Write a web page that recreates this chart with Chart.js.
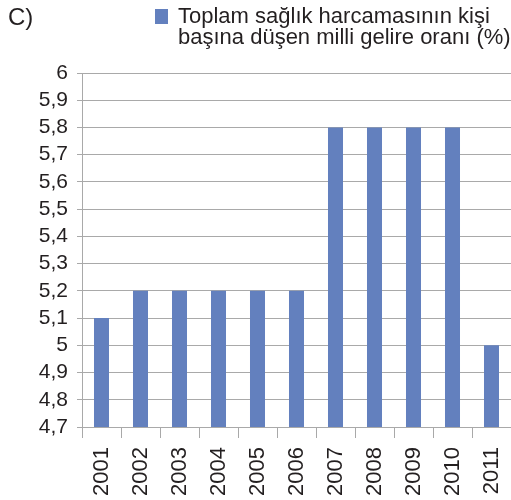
<!DOCTYPE html>
<html>
<head>
<meta charset="utf-8">
<script src="https://cdn.jsdelivr.net/npm/chart.js@4"></script>
<style>
  html, body { margin: 0; padding: 0; background: #fff; }
  #wrap { position: relative; width: 511px; height: 500px; overflow: hidden; }
  #c { position: absolute; left: 0; top: 0; }
  .txt { position: absolute; font-family: "Liberation Sans", Arial, sans-serif; color: #231f20; white-space: nowrap; }
  #label { left: 8px; top: 3px; font-size: 24px; }
  #legbox { position: absolute; left: 155px; top: 9px; width: 13px; height: 15px; background: #6380be; }
  #legtext { left: 178px; top: 5px; font-size: 22px; line-height: 21px; }
</style>
</head>
<body>
<div id="wrap">
  <canvas id="c" width="511" height="500"></canvas>
  <div class="txt" id="label">C)</div>
  <div id="legbox"></div>
  <div class="txt" id="legtext">Toplam sağlık harcamasının kişi<br>başına düşen milli gelire oranı (%)</div>
</div>
<script>
const years = ["2001","2002","2003","2004","2005","2006","2007","2008","2009","2010","2011"];
const ratio = [5.1, 5.2, 5.2, 5.2, 5.2, 5.2, 5.8, 5.8, 5.8, 5.8, 5.0];
const seriesName = "Toplam sağlık harcamasının kişi başına düşen milli gelire oranı (%)";
const yMin = 4.7, yMax = 6.0, yStep = 0.1;

const gridColor = '#a9a9a9';
new Chart(document.getElementById('c'), {
  type: 'bar',
  data: {
    labels: years,
    datasets: [{
      label: seriesName,
      data: ratio,
      backgroundColor: '#6380be',
      borderWidth: 0,
      barPercentage: 0.385,
      categoryPercentage: 1.0
    }]
  },
  options: {
    responsive: false,
    animation: false,
    layout: { padding: { top: 73, right: 0, left: 0, bottom: 0 } },
    plugins: { legend: { display: false }, tooltip: { enabled: false }, title: { display: false } },
    scales: {
      x: {
        offset: true,
        grid: { display: true, drawOnChartArea: false, drawTicks: true, tickLength: 11, color: gridColor, offset: true },
        border: { display: true, color: gridColor },
        ticks: {
          minRotation: 90, maxRotation: 90, padding: 9, color: '#231f20', autoSkip: false,
          font: { family: '"Liberation Sans", Arial, sans-serif', size: 22 }
        },
        afterFit: (s) => { s.height = 73; s.paddingLeft = 0; s.paddingRight = 0; }
      },
      y: {
        min: yMin, max: yMax,
        grid: { color: gridColor, tickLength: 5, drawTicks: true },
        border: { display: true, color: gridColor },
        ticks: {
          stepSize: yStep, padding: 9, color: '#231f20', autoSkip: false,
          font: { family: '"Liberation Sans", Arial, sans-serif', size: 21 },
          callback: (v) => (Math.round(v * 10) / 10).toString().replace('.', ',')
        },
        afterFit: (s) => { s.width = 82; s.paddingTop = 0; s.paddingBottom = 0; }
      }
    }
  }
});
</script>
</body>
</html>
